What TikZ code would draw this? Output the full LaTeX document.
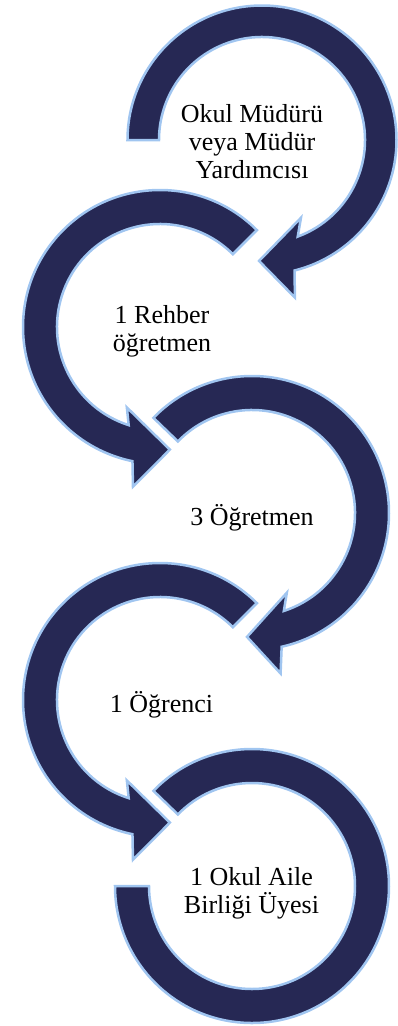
\documentclass[tikz,border=0pt]{standalone}
\usepackage{fontspec}
\setmainfont{Liberation Serif}
\definecolor{navy}{RGB}{38,40,84}
\definecolor{edgeblue}{RGB}{160,197,240}
\begin{document}
\begin{tikzpicture}[x=1pt,y=1pt,yscale=-1,
  band/.style={fill=navy, draw=edgeblue, line width=2.5pt, line join=miter},
  lbl/.style={font=\fontsize{26}{28}\selectfont, align=center, anchor=base, inner sep=0pt, text=black}]
\useasboundingbox (0,0) rectangle (397,1026);
% arrow 1 (clockwise, starts at the left)
\begin{scope}[shift={(262,140)}]
\path[band] (180:134.5) arc[start angle=180,end angle=436,radius=134.5]
  -- (438.2:161) -- (451.4:121) -- (423.4:87) -- (429.7:103)
  arc[start angle=429.7,end angle=180,radius=103] -- cycle;
\end{scope}
% arrow 2 (counter-clockwise)
\begin{scope}[shift={(160,327)}]
\path[band] (-45:137) arc[start angle=-45,end angle=-258.4,radius=137]
  -- (-260.4:162) -- (-274.6:123) -- (-247.6:87) -- (-252.3:103)
  arc[start angle=-252.3,end angle=-45,radius=103] -- cycle;
\end{scope}
% arrow 3 (clockwise)
\begin{scope}[shift={(252,513)}]
\path[band] (224:137) arc[start angle=224,end angle=437.5,radius=137]
  -- (439.9:163) -- (452.3:124) -- (426.4:87) -- (432:103)
  arc[start angle=432,end angle=224,radius=103] -- cycle;
\end{scope}
% arrow 4 (counter-clockwise)
\begin{scope}[shift={(160,700)}]
\path[band] (-45:137) arc[start angle=-45,end angle=-258.4,radius=137]
  -- (-260.4:162) -- (-274.6:123) -- (-247.6:87) -- (-252.3:103)
  arc[start angle=-252.3,end angle=-45,radius=103] -- cycle;
\end{scope}
% arc 5 (no head)
\begin{scope}[shift={(252,886)}]
\path[band] (224:137) arc[start angle=224,end angle=540,radius=137]
  -- (540:103) arc[start angle=540,end angle=224,radius=103] -- cycle;
\end{scope}
% labels (anchor=base is the baseline of the last line)
\node[lbl] (t1) at (252,178) {Okul Müdürü\\veya Müdür\\Yardımcısı};
\node[lbl] (t2) at (162,351) {1 Rehber\\öğretmen};
\node[lbl] (t3) at (252,525) {3 Öğretmen};
\node[lbl] (t4) at (161.5,712) {1 Öğrenci};
\node[lbl] (t5) at (251.5,913) {1 Okul Aile\\Birliği Üyesi};
\end{tikzpicture}
\end{document}
